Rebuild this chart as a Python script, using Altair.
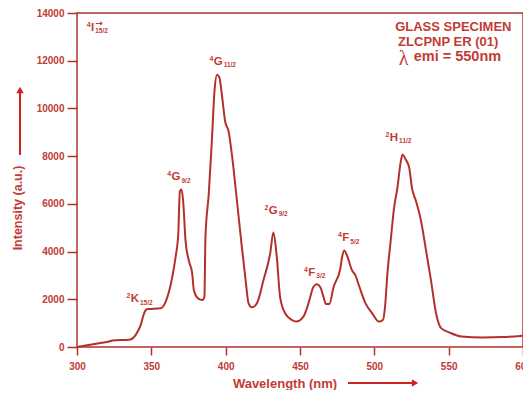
import altair as alt
import pandas as pd

# ---------------- data ----------------
wavelength = [300, 312.7, 321.6, 323.9, 335, 339.5, 342.9, 345.1, 347.3, 356.3,
              359.6, 364.1, 366.3, 368.1, 369.2, 370.3, 371.4, 373, 375.2, 377.5,
              378.6, 380.8, 384.1, 385.7, 386.4, 388.6, 390.8, 392.6, 394.2, 395.7,
              397.5, 399.7, 402, 404.2, 407.6, 410.9, 413.2, 415.4, 417.6, 421,
              425.4, 429.9, 432.1, 434.4, 436.6, 440, 444.4, 447.5, 452.3, 455.7,
              459, 461.3, 463.6, 465.8, 467.4, 469.7, 472.6, 477.1, 478.3, 479.8,
              481.6, 485, 487.3, 489.6, 494.1, 498.6, 503.1, 505.8, 507.2, 508.8,
              511, 513.3, 515.5, 517.8, 518.9, 521.2, 523.5, 525.3, 528, 531.4,
              534.8, 538.1, 541.5, 544.9, 550.6, 558.5, 573.2, 586.7, 600]
intensity = [0, 137, 233, 274, 303, 511, 926, 1412, 1591, 1620,
             1894, 2933, 3764, 4736, 6534, 6605, 6119, 4457, 3626, 3074,
             2380, 2077, 1965, 2102, 4594, 6397, 8748, 10826, 11407, 11311,
             10551, 9442, 9027, 8059, 6119, 4179, 2933, 1828, 1662, 1828,
             2796, 3905, 4802, 3764, 2102, 1412, 1134, 1064, 1271, 1828,
             2517, 2630, 2517, 2102, 1799, 1799, 2517, 3282, 3765, 4042,
             3834, 3211, 3003, 2588, 1828, 1412, 1064, 1134, 1688, 3074,
             4457, 5840, 6671, 7780, 8059, 7851, 7502, 6671, 6119, 5288,
             4042, 2796, 1412, 789, 606, 440, 399, 415, 470]

x_ticks = [300, 350, 400, 450, 500, 550, 600]
y_ticks = [0, 2000, 4000, 6000, 8000, 10000, 12000, 14000]

# transition labels: anchor = right edge of the main letter
label_x = [311.6, 341.7, 369.6, 398.0, 435.0, 460.3, 483.2, 516.0]
label_y = [13390, 2000, 7114, 11960, 5714, 3115, 4557, 8774]
label_sup = ["4", "2", "4", "4", "2", "4", "4", "2"]
label_main = ["I", "K", "G", "G", "G", "F", "F", "H"]
label_sub = ["15/2", "15/2", "9/2", "11/2", "9/2", "3/2", "5/2", "11/2"]

spec_x = [514.0, 516.0]
spec_y = [13400, 12800]
spec_text = ["GLASS SPECIMEN", "ZLCPNP ER (01)"]
lambda_x = [516.5]
lambda_y = [12090]
emi_x = [526.5]
emi_y = [12150]
emi_text = ["emi = 550nm"]

# ---------------- styling ----------------
LINE = "#b3312c"
TEXT = "#c23b36"
ARROW = "#cc2222"
FONT = "Liberation Sans"
MAIN_SIZE = 11.5
letter_em = {"G": 0.778, "K": 0.722, "F": 0.611, "H": 0.722, "I": 0.278}

xs = alt.Scale(domain=[300, 600], nice=False, zero=False)
ys = alt.Scale(domain=[0, 14000], nice=False)

x_axis = alt.Axis(
    values=x_ticks, grid=False, domain=False, tickColor=LINE, tickWidth=1.5, tickSize=8,
    labelFont=FONT, labelFontSize=10, labelFontWeight="bold", labelColor=TEXT,
    labelPadding=6, labelFlush=False, format="d",
    title="Wavelength (nm)", titleFont=FONT, titleFontSize=13,
    titleFontWeight="bold", titleColor=TEXT, titleX=207.5, titleY=36,
    titleAlign="center", titleBaseline="middle")
y_axis = alt.Axis(
    values=y_ticks, grid=False, domain=False, tickColor=LINE, tickWidth=1.5, tickSize=10,
    labelFont=FONT, labelFontSize=10, labelFontWeight="bold", labelColor=TEXT,
    labelPadding=3, labelFlush=False, format="d",
    title="Intensity (a.u.)", titleFont=FONT, titleFontSize=12.5,
    titleFontWeight="bold", titleColor=TEXT, titleAngle=270, titleX=-60, titleY=194.5,
    titleAlign="center", titleBaseline="middle")

df = pd.DataFrame({"wl": wavelength, "val": intensity})

line = alt.Chart(df).mark_line(color=LINE, strokeWidth=2, interpolate="monotone").encode(
    x=alt.X("wl:Q", scale=xs, axis=x_axis),
    y=alt.Y("val:Q", scale=ys, axis=y_axis),
)

lab = pd.DataFrame({"wl": label_x, "val": label_y, "sup": label_sup,
                    "main": label_main, "sub": label_sub})


def enc(ch, textfield):
    return ch.encode(
        x=alt.X("wl:Q", scale=xs, axis=x_axis),
        y=alt.Y("val:Q", scale=ys, axis=y_axis),
        text=alt.Text(textfield),
    )


main_layer = enc(alt.Chart(lab).mark_text(align="right", baseline="middle", font=FONT,
                                           fontSize=MAIN_SIZE, fontWeight="bold", color=TEXT), "main:N")
sub_layer = enc(alt.Chart(lab).mark_text(align="left", baseline="middle", font=FONT, dx=1, dy=3.5,
                                          fontSize=6.5, fontWeight="bold", color=TEXT), "sub:N")

sup_layers = []
for i in range(len(label_x)):
    w = letter_em[label_main[i]] * MAIN_SIZE
    one = pd.DataFrame({"wl": [label_x[i]], "val": [label_y[i]], "sup": [label_sup[i]]})
    sup_layers.append(enc(alt.Chart(one).mark_text(align="right", baseline="middle", font=FONT,
                                                   dx=-w - 0.3, dy=-3, fontSize=7,
                                                   fontWeight="bold", color=TEXT), "sup:N"))

arrow_df = pd.DataFrame({"wl": [label_x[0]], "val": [label_y[0]], "t": ["\u2192"]})
i_arrow = enc(alt.Chart(arrow_df).mark_text(align="left", baseline="middle", font="DejaVu Sans",
                                             dx=1, dy=-4.5, fontSize=9, fontWeight="bold",
                                             color=TEXT), "t:N")

spec = enc(alt.Chart(pd.DataFrame({"wl": spec_x, "val": spec_y, "t": spec_text})).mark_text(
    align="left", baseline="middle", font=FONT, fontSize=13, fontWeight="bold", color=TEXT), "t:N")
lam = enc(alt.Chart(pd.DataFrame({"wl": lambda_x, "val": lambda_y, "t": ["\u03bb"]})).mark_text(
    align="left", baseline="middle", font="Liberation Serif", fontSize=20, color=TEXT), "t:N")
emi = enc(alt.Chart(pd.DataFrame({"wl": emi_x, "val": emi_y, "t": emi_text})).mark_text(
    align="left", baseline="middle", font=FONT, fontSize=14.5, fontWeight="bold", color=TEXT), "t:N")

one_row = pd.DataFrame({"a": [0]})
y_shaft = alt.Chart(one_row).mark_rule(color=ARROW, strokeWidth=2).encode(
    x=alt.value(-57), y=alt.value(142), y2=alt.value(79))
y_head = alt.Chart(one_row).mark_point(shape="triangle-up", filled=True, size=55, color=ARROW,
                                       opacity=1).encode(x=alt.value(-57), y=alt.value(77))
x_shaft = alt.Chart(one_row).mark_rule(color=ARROW, strokeWidth=2).encode(
    x=alt.value(271), x2=alt.value(336), y=alt.value(370))
x_head = alt.Chart(one_row).mark_point(shape="triangle-right", filled=True, size=55, color=ARROW,
                                       opacity=1).encode(x=alt.value(338), y=alt.value(370))

chart = alt.layer(line, main_layer, sub_layer, *sup_layers, i_arrow, spec, lam, emi,
                  y_shaft, y_head, x_shaft, x_head).properties(
    width=446, height=334,
    autosize=alt.AutoSizeParams(type="none"),
    padding={"left": 69, "top": 5, "right": 0, "bottom": 43},
    background="white",
).configure_view(stroke=LINE, strokeWidth=1.5)

chart.save("out.html", embed_options={"renderer": "svg", "actions": False})
